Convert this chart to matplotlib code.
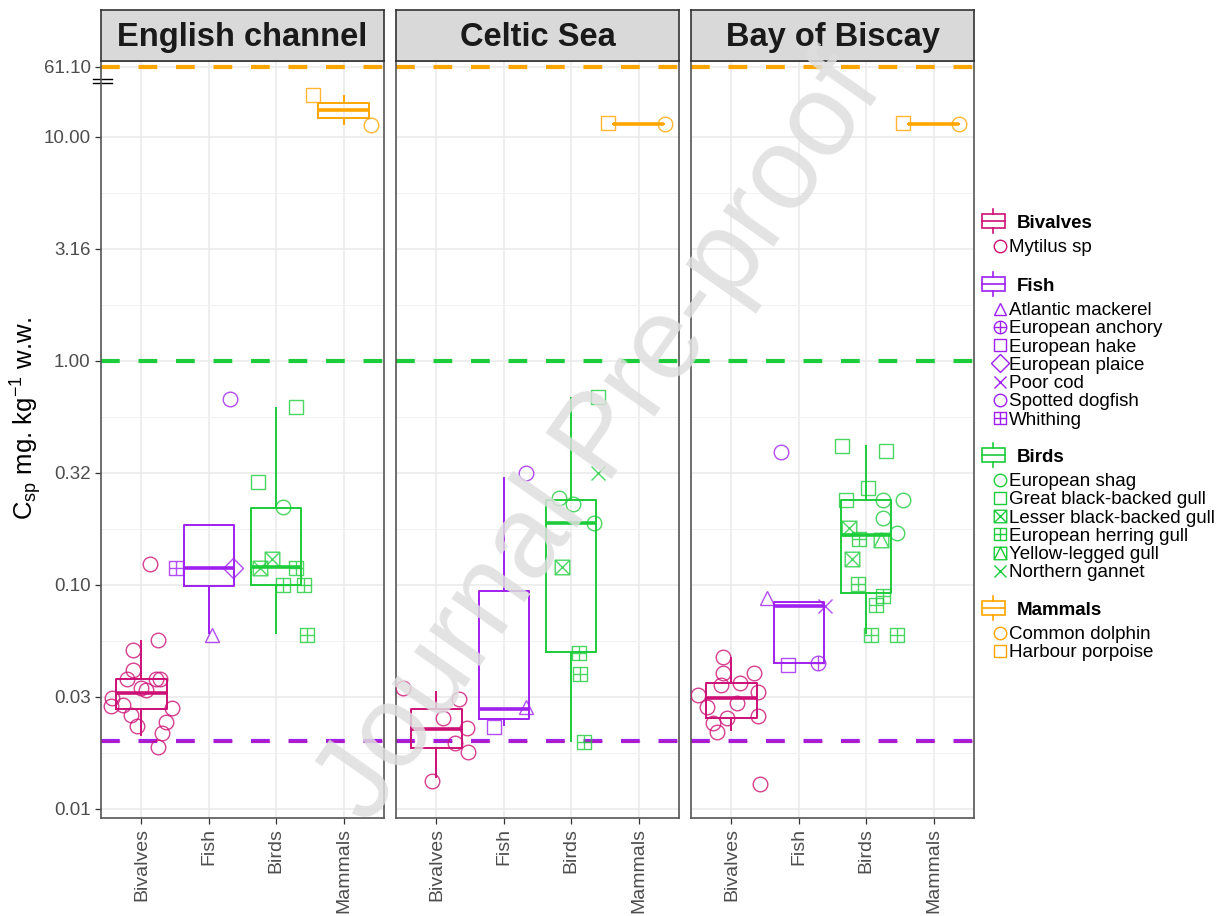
import numpy as np
import matplotlib
matplotlib.use("Agg")
import matplotlib.pyplot as plt
from matplotlib.path import Path
from matplotlib.patches import Rectangle
from matplotlib.lines import Line2D
from matplotlib.legend_handler import HandlerBase
from matplotlib.transforms import blended_transform_factory

plt.rcParams['font.family'] = ['Liberation Sans', 'DejaVu Sans']

# ---------------- data ----------------
regions = ["English channel", "Celtic Sea", "Bay of Biscay"]
groups = ["Bivalves", "Fish", "Birds", "Mammals"]
group_colors = ["#CD1076", "#A020F0", "#1DCC3A", "#FFA500"]

bivalve_species = ["Mytilus sp"]
fish_species = ["Atlantic mackerel", "European anchory", "European hake", "European plaice",
                "Poor cod", "Spotted dogfish", "Whithing"]
bird_species = ["European shag", "Great black-backed gull", "Lesser black-backed gull",
                "European herring gull", "Yellow-legged gull", "Northern gannet"]
mammal_species = ["Common dolphin", "Harbour porpoise"]

# threshold per group (mg/kg w.w.)
thresholds = [0.02, 0.02, 1.0, 61.10]

y_ticks = [0.01, 10 ** -1.5, 0.1, 10 ** -0.5, 1.0, 10 ** 0.5, 10.0, 61.10]
y_ticklabels = ["0.01", "0.03", "0.10", "0.32", "1.00", "3.16", "10.00", "61.10"]

# box stats per group: whislo, q1, med, q3, whishi
ec_box = [[0.0214, 0.0279, 0.033, 0.038, 0.0563],
          [0.061, 0.099, 0.119, 0.185, 0.185],
          [0.061, 0.100, 0.120, 0.221, 0.617],
          [14.0, 16.3, 20.1, 24.0, 28.8]]
cs_box = [[0.0139, 0.0187, 0.0228, 0.0279, 0.0333],
          [0.0237, 0.0252, 0.0279, 0.094, 0.30],
          [0.0201, 0.0502, 0.189, 0.239, 0.684],
          [14.1, 14.1, 14.1, 14.1, 14.1]]
bob_box = [[0.0225, 0.0255, 0.0313, 0.0365, 0.0472],
           [0.0449, 0.0449, 0.0806, 0.084, 0.084],
           [0.061, 0.092, 0.167, 0.239, 0.418],
           [14.1, 14.1, 14.1, 14.1, 14.1]]

# individual samples: species, value, horizontal jitter
ec_species = ["Mytilus sp"] * 18 + [
    "Atlantic mackerel", "Whithing", "European plaice", "Spotted dogfish",
    "Great black-backed gull", "Great black-backed gull", "European shag",
    "Lesser black-backed gull", "Lesser black-backed gull",
    "European herring gull", "European herring gull", "European herring gull", "European herring gull",
    "Harbour porpoise", "Common dolphin"]
ec_value = [0.124, 0.0568, 0.0513, 0.0418, 0.038, 0.038, 0.038, 0.0347, 0.034, 0.0313,
            0.0288, 0.0291, 0.0282, 0.0263, 0.0245, 0.0235, 0.0218, 0.0189,
            0.0598, 0.119, 0.119, 0.676,
            0.623, 0.288, 0.223, 0.131, 0.119, 0.119, 0.100, 0.100, 0.0598,
            29.7, 13.6]
ec_jitter = [0.13, 0.24, -0.12, -0.12, -0.21, 0.21, 0.28, -0.01, 0.07, -0.43,
             -0.45, -0.28, 0.46, -0.16, 0.37, -0.06, 0.30, 0.24,
             0.04, -0.48, 0.36, 0.31,
             0.30, -0.27, 0.10, -0.06, -0.24, 0.30, 0.10, 0.42, 0.45,
             -0.45, 0.40]

cs_species = ["Mytilus sp"] * 7 + [
    "Spotted dogfish", "Atlantic mackerel", "European hake",
    "Great black-backed gull", "Northern gannet", "European shag", "European shag", "European shag",
    "Lesser black-backed gull", "European herring gull", "European herring gull", "European herring gull",
    "Harbour porpoise", "Common dolphin"]
cs_value = [0.0347, 0.031, 0.0255, 0.023, 0.0197, 0.018, 0.0133,
            0.316, 0.0285, 0.0232,
            0.69, 0.316, 0.245, 0.230, 0.189, 0.120, 0.0497, 0.0401, 0.0199,
            14.3, 13.9]
cs_jitter = [-0.49, 0.33, 0.10, 0.45, 0.28, 0.47, -0.07,
             0.33, 0.33, -0.15,
             0.40, 0.40, -0.18, 0.03, 0.34, -0.13, 0.12, 0.13, 0.19,
             -0.45, 0.39]

bob_species = ["Mytilus sp"] * 14 + [
    "Atlantic mackerel", "Poor cod", "Spotted dogfish", "European hake", "European anchory",
    "Great black-backed gull", "Great black-backed gull", "Great black-backed gull", "Great black-backed gull",
    "European shag", "European shag", "European shag", "European shag",
    "Lesser black-backed gull", "European herring gull", "Yellow-legged gull", "Lesser black-backed gull",
    "European herring gull", "European herring gull", "European herring gull", "European herring gull",
    "European herring gull",
    "Harbour porpoise", "Common dolphin"]
bob_value = [0.0477, 0.0405, 0.0405, 0.0365, 0.0358, 0.0333, 0.0323, 0.0297, 0.0285, 0.026,
             0.0255, 0.0242, 0.0221, 0.0129,
             0.0875, 0.0806, 0.392, 0.044, 0.0449,
             0.418, 0.397, 0.271, 0.239,
             0.239, 0.239, 0.199, 0.171,
             0.180, 0.160, 0.159, 0.131,
             0.101, 0.089, 0.081, 0.060, 0.060,
             14.3, 13.9]
bob_jitter = [-0.13, -0.13, 0.34, 0.13, -0.16, 0.40, -0.49, 0.09, -0.36, 0.40,
              -0.06, -0.27, -0.21, 0.43,
              -0.47, 0.39, -0.27, -0.16, 0.28,
              -0.36, 0.30, 0.03, -0.30,
              0.25, 0.55, 0.25, 0.45,
              -0.25, -0.10, 0.22, -0.21,
              -0.12, 0.25, 0.15, 0.07, 0.45,
              -0.45, 0.37]

# ---------------- markers ----------------
sq = Path([(-1, -1), (1, -1), (1, 1), (-1, 1), (-1, -1)],
          [Path.MOVETO, Path.LINETO, Path.LINETO, Path.LINETO, Path.CLOSEPOLY])
plus = Path([(-1, 0), (1, 0), (0, -1), (0, 1)],
            [Path.MOVETO, Path.LINETO, Path.MOVETO, Path.LINETO])
cross = Path([(-1, -1), (1, 1), (-1, 1), (1, -1)],
             [Path.MOVETO, Path.LINETO, Path.MOVETO, Path.LINETO])
tri_in = Path([(-1, -1), (0, 1), (1, -1)], [Path.MOVETO, Path.LINETO, Path.LINETO])
circ = Path.unit_circle()

species_marker = {
    "Mytilus sp": "o",
    "Atlantic mackerel": "^",
    "European anchory": Path.make_compound_path(circ, plus),
    "European hake": "s",
    "European plaice": "D",
    "Poor cod": "x",
    "Spotted dogfish": "o",
    "Whithing": Path.make_compound_path(sq, plus),
    "European shag": "o",
    "Great black-backed gull": "s",
    "Lesser black-backed gull": Path.make_compound_path(sq, cross),
    "European herring gull": Path.make_compound_path(sq, plus),
    "Yellow-legged gull": Path.make_compound_path(sq, tri_in),
    "Northern gannet": "x",
    "Common dolphin": "o",
    "Harbour porpoise": "s",
}
species_lists = [bivalve_species, fish_species, bird_species, mammal_species]
species_group = {s: g for g, lst in enumerate(species_lists) for s in lst}

# ---------------- y scale (log, squeezed above 10) ----------------
SQUEEZE = 0.3976

def fwd(v):
    lv = np.log10(np.maximum(np.asarray(v, dtype=float), 1e-12))
    return np.where(lv <= 1, lv, 1 + (lv - 1) * SQUEEZE)

def inv(t):
    t = np.asarray(t, dtype=float)
    return np.where(t <= 1, 10.0 ** t, 10.0 ** (1 + (t - 1) / SQUEEZE))


class BoxKey(HandlerBase):
    def create_artists(self, legend, orig_handle, xdescent, ydescent, width, height, fontsize, trans):
        c = orig_handle.get_color()
        cx = -xdescent + width / 2
        cy = -ydescent + height / 2
        bw, bh, wl = width * 0.95, 10.0, 3.3
        rect = Rectangle((cx - bw / 2, cy - bh / 2), bw, bh, fill=False, ec=c, lw=1.2, transform=trans)
        med = Line2D([cx - bw / 2, cx + bw / 2], [cy, cy], color=c, lw=1.2, transform=trans)
        w1 = Line2D([cx, cx], [cy + bh / 2, cy + bh / 2 + wl], color=c, lw=1.2, transform=trans)
        w2 = Line2D([cx, cx], [cy - bh / 2, cy - bh / 2 - wl], color=c, lw=1.2, transform=trans)
        return [rect, med, w1, w2]


W, H = 1227, 916
fig = plt.figure(figsize=(W / 100, H / 100), dpi=100)

panel_left = [101, 396, 691]
panel_w, panel_top, panel_bottom = 283, 61, 818
strip_top = 10

boxes = [ec_box, cs_box, bob_box]
species_all = [ec_species, cs_species, bob_species]
values_all = [ec_value, cs_value, bob_value]
jitter_all = [ec_jitter, cs_jitter, bob_jitter]

axes = []
for i, region in enumerate(regions):
    ax = fig.add_axes([panel_left[i] / W, 1 - panel_bottom / H, panel_w / W,
                       (panel_bottom - panel_top) / H],
                      sharey=axes[0] if axes else None)
    axes.append(ax)
    ax.set_yscale('function', functions=(fwd, inv))
    ax.set_ylim(0.0091, 71.3)
    ax.set_xlim(-0.6, 3.6)
    ax.set_axisbelow(True)

    # thresholds (fish line under the bivalve one)
    for g in [3, 2, 1, 0]:
        if g == 0:
            ax.axhline(thresholds[g], color=group_colors[g], lw=1.0, dashes=(13.5, 13.5),
                       zorder=1.6, alpha=0.55)
        else:
            ax.axhline(thresholds[g], color=group_colors[g], lw=3.0, dashes=(4.5, 4.5), zorder=1.5)

    # boxplots
    for g in range(4):
        lo, q1, med, q3, hi = boxes[i][g]
        stats = [dict(whislo=lo, q1=q1, med=med, q3=q3, whishi=hi, fliers=[])]
        c = group_colors[g]
        ax.bxp(stats, positions=[g], widths=0.75, showfliers=False, showcaps=False,
               boxprops=dict(color=c, lw=1.4), whiskerprops=dict(color=c, lw=1.4),
               medianprops=dict(color=c, lw=2.6), manage_ticks=False)

    # samples
    sp_arr = np.array(species_all[i])
    val_arr = np.array(values_all[i])
    jit_arr = np.array(jitter_all[i])
    for sp in dict.fromkeys(species_all[i]):
        g = species_group[sp]
        m = sp_arr == sp
        ax.plot(g + jit_arr[m], val_arr[m], ls='none', marker=species_marker[sp],
                mfc='none', mec=group_colors[g], ms=10.5, mew=1.0, alpha=0.8, zorder=4)

    ax.set_xticks(range(4))
    ax.set_xticklabels(groups, rotation=90, fontsize=14, color='#4D4D4D')
    ax.set_yticks(y_ticks)
    ax.set_yticks([10 ** e for e in (-1.75, -1.25, -0.75, -0.25, 0.25, 0.75)], minor=True)
    ax.grid(which='major', color='#EBEBEB', lw=1.2)
    ax.grid(which='minor', axis='y', color='#F2F2F2', lw=0.7)
    ax.tick_params(axis='both', which='major', length=4, color='#333333', width=0.9)
    ax.tick_params(axis='y', which='minor', length=0)
    for s in ax.spines.values():
        s.set_color('#555555')
        s.set_linewidth(1.2)
    if i == 0:
        ax.set_yticklabels(y_ticklabels, fontsize=13.5, color='#4D4D4D')
        ax.set_ylabel(r'$\mathregular{C_{sp}}$ mg. kg$^{\mathregular{-1}}$ w.w.', fontsize=18.5)
        ax.yaxis.set_label_coords(-0.20, 0.528)
        # axis break marks just under the top tick
        bt = blended_transform_factory(ax.transAxes, ax.transData)
        for v in (44.8, 40.4):
            ax.plot([-0.03, 0.04], [v, v], color='black', lw=1.0, transform=bt, clip_on=False)
    else:
        ax.tick_params(axis='y', which='both', left=False, labelleft=False)

    # strip
    sax = fig.add_axes([panel_left[i] / W, 1 - panel_top / H, panel_w / W, (panel_top - strip_top) / H])
    sax.set_facecolor('#D9D9D9')
    sax.set_xticks([])
    sax.set_yticks([])
    for s in sax.spines.values():
        s.set_color('#333333')
        s.set_linewidth(1.2)
    sax.text(0.5, 0.47, region, ha='center', va='center', fontsize=23.5, fontweight='bold',
             color='#1A1A1A', transform=sax.transAxes)

# ---------------- legend ----------------
y = 223
for g, name in enumerate(groups):
    c = group_colors[g]
    hbox = Line2D([], [], color=c)
    fig.legend([hbox], [name], loc='center left', bbox_to_anchor=(981 / W, 1 - y / H),
               frameon=False, borderpad=0, borderaxespad=0, handlelength=1.3, handletextpad=0.6,
               prop=dict(weight='bold', size=13.5), handler_map={hbox: BoxKey()})
    first = y + 26
    handles = [Line2D([], [], ls='none', marker=species_marker[s], mfc='none', mec=c, ms=9, mew=1.0)
               for s in species_lists[g]]
    fig.legend(handles, species_lists[g], loc='upper left',
               bbox_to_anchor=(992.5 / W, 1 - (first - 10) / H), frameon=False, borderpad=0,
               borderaxespad=0, handlelength=0.8, handletextpad=0.1, labelspacing=0.06, fontsize=13.5)
    y = first + (len(species_lists[g]) - 1) * 18 + 37

fig.text(0.49, 0.52, "Journal Pre-proof", rotation=55, fontsize=84, color='#DEDEDE',
         ha='center', va='center', alpha=0.85)

fig.savefig("out.png", dpi=100)
